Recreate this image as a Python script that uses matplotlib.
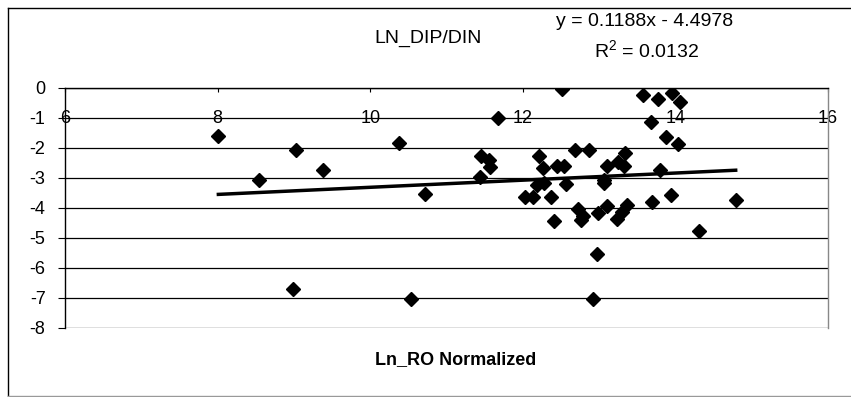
import numpy as np
import matplotlib.pyplot as plt
from matplotlib.lines import Line2D

# ── Data ──────────────────────────────────────────────────────────────────
ro_norm = [8.01, 8.54, 9.03, 8.99, 9.38, 10.38, 10.72, 10.53, 11.45, 11.56,
           11.57, 11.44, 11.67, 12.51, 13.58, 13.77, 13.96, 14.06, 13.68, 13.88,
           14.03, 12.68, 12.87, 12.21, 12.26, 12.45, 12.54, 13.34, 13.10, 13.25,
           13.33, 13.80, 13.07, 12.19, 12.28, 12.57, 13.07, 12.03, 12.13, 12.37,
           12.72, 12.79, 12.76, 12.41, 12.99, 13.10, 13.23, 13.30, 13.37, 13.69,
           13.94, 14.79, 14.31, 12.97, 12.92]
ln_dip_din = [-1.60, -3.05, -2.07, -6.70, -2.73, -1.83, -3.53, -7.03, -2.25, -2.40,
              -2.63, -2.97, -1.00, -0.03, -0.23, -0.37, -0.17, -0.47, -1.13, -1.63,
              -1.87, -2.07, -2.07, -2.27, -2.67, -2.60, -2.60, -2.17, -2.60, -2.47,
              -2.60, -2.73, -3.07, -3.23, -3.17, -3.20, -3.17, -3.63, -3.63, -3.63,
              -4.03, -4.27, -4.40, -4.43, -4.17, -3.93, -4.37, -4.13, -3.90, -3.80,
              -3.57, -3.73, -4.77, -5.53, -7.03]

# linear trendline reported on the chart
slope = 0.1188
intercept = -4.4978
r_squared = 0.0132

x_ticks = [6, 8, 10, 12, 14, 16]
y_ticks = [0, -1, -2, -3, -4, -5, -6, -7, -8]

plt.rcParams['font.family'] = ['Liberation Sans', 'DejaVu Sans']
plt.rcParams['axes.unicode_minus'] = False
plt.rcParams['mathtext.fontset'] = 'custom'
plt.rcParams['mathtext.rm'] = 'Liberation Sans'
plt.rcParams['mathtext.it'] = 'Liberation Sans'

W, H = 851, 397
fig = plt.figure(figsize=(W / 100, H / 100), dpi=100)
ax = fig.add_axes([65 / W, 1 - 328 / H, (828 - 65) / W, (328 - 88) / H])

# ── Points and trendline ──────────────────────────────────────────────────
ax.plot(ro_norm, ln_dip_din, ls='none', marker='D', ms=7, color='black', zorder=4)
xs = np.array([min(ro_norm), max(ro_norm)])
ax.plot(xs, slope * xs + intercept, color='black', lw=2.5, zorder=3)

# ── Axes styling ──────────────────────────────────────────────────────────
ax.set_xlim(6, 16)
ax.set_ylim(-8, 0)
ax.set_xticks(x_ticks)
ax.set_yticks(y_ticks)
ax.set_xticklabels([str(t) for t in x_ticks])
ax.set_yticklabels([str(t) for t in y_ticks])

ax.spines['bottom'].set_position(('data', 0))
ax.spines['bottom'].set_color('black')
ax.spines['top'].set_visible(False)
ax.spines['left'].set_color('black')
ax.spines['right'].set_color('#888888')
for s in ax.spines.values():
    s.set_linewidth(1)

ax.yaxis.grid(True, color='black', lw=0.9)
ax.set_axisbelow(True)
ax.tick_params(axis='x', direction='out', length=3, pad=13, labelsize=13, color='black')
ax.tick_params(axis='y', direction='out', length=5, pad=9, labelsize=13, color='black')

# ── Texts ─────────────────────────────────────────────────────────────────
fig.text(428 / W, 1 - 38 / H, 'LN_DIP/DIN', ha='center', va='center', fontsize=14)
sign = '-' if intercept < 0 else '+'
fig.text(645 / W, 1 - 21 / H, f'y = {slope:.4f}x {sign} {abs(intercept):.4f}',
         ha='center', va='center', fontsize=14)
fig.text(647 / W, 1 - 50 / H, f'R$^2$ = {r_squared:.4f}',
         ha='center', va='center', fontsize=14)
fig.text(456 / W, 1 - 360 / H, 'Ln_RO Normalized', ha='center', va='center',
         fontsize=13, fontweight='bold')

# chart area border
fig.add_artist(Line2D([8 / W, 8 / W], [0, 1 - 8 / H], color='black', lw=1))
fig.add_artist(Line2D([8 / W, 1], [1 - 8 / H, 1 - 8 / H], color='black', lw=1))
fig.add_artist(Line2D([8 / W, 1], [1.5 / H, 1.5 / H], color='#999999', lw=1))

fig.savefig('out.png', dpi=100)
